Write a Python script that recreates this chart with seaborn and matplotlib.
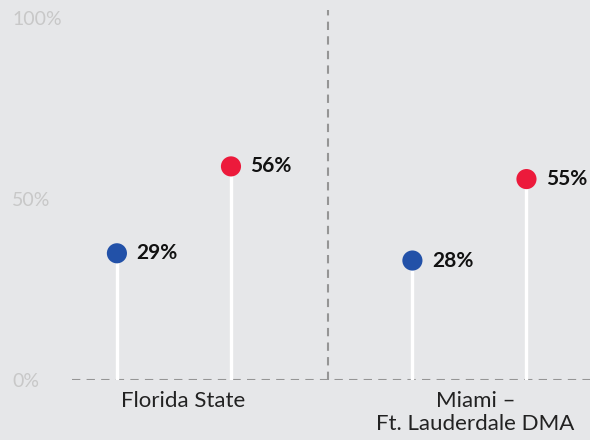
import pandas as pd
import matplotlib.pyplot as plt
import seaborn as sns

# Data
regions = ["Florida State", "Miami \u2013\nFt. Lauderdale DMA"]
series = ["Blue", "Red"]
# marker heights (as drawn) and printed labels
blue_heights = [35, 33]
red_heights = [59, 55.5]
blue_labels = ["29%", "28%"]
red_labels = ["56%", "55%"]
y_ticks = [0, 50, 100]
y_tick_labels = ["0%", "50%", "100%"]

colors = {"Blue": "#2251a8", "Red": "#ec1a3b"}
offset = 0.193

rows = []
for i, r in enumerate(regions):
    rows.append({"region": r, "series": "Blue", "x": i - offset,
                 "value": blue_heights[i], "label": blue_labels[i]})
    rows.append({"region": r, "series": "Red", "x": i + offset,
                 "value": red_heights[i], "label": red_labels[i]})
df = pd.DataFrame(rows)

sns.set_style("white")
plt.rcParams["font.family"] = ["Lato", "DejaVu Sans"]

bg = "#e6e7e9"
fig = plt.figure(figsize=(5.9, 4.4), dpi=100, facecolor=bg)
ax = fig.add_axes([72 / 590, 60 / 440, 518 / 590, 370 / 440])
ax.set_facecolor(bg)

# stems
ax.vlines(df["x"], 0, df["value"], color="white", lw=2.4, zorder=2)

# dots
sns.scatterplot(data=df, x="x", y="value", hue="series", palette=colors,
                s=210, edgecolor="none", legend=False, ax=ax, zorder=3)

# value labels
for _, row in df.iterrows():
    ax.annotate(row["label"], (row["x"], row["value"]), xytext=(14, 0),
                textcoords="offset points", ha="left", va="center",
                fontsize=15, fontweight="bold", color="#111111")

# baseline and divider
ax.axhline(0, color="#959595", lw=1.5, ls=(0, (4, 3)), zorder=1)
ax.axvline(0.52, color="#959595", lw=1.5, ls=(0, (4, 3)), zorder=1)

ax.set_xlim(-0.345, 1.408)
ax.set_ylim(0, 102.2)

ax.set_yticks(y_ticks)
ax.set_yticklabels(y_tick_labels, fontsize=14, color="#c8c8c8", ha="left")
ax.tick_params(axis="y", length=0, pad=43)

ax.set_xticks([0.03, 1.02])
ax.set_xticklabels(regions, fontsize=16, color="#222222", linespacing=1.15)
ax.tick_params(axis="x", length=0, pad=8)

ax.set_xlabel("")
ax.set_ylabel("")
for s in ax.spines.values():
    s.set_visible(False)

fig.savefig("out.png", dpi=100, facecolor=bg)
